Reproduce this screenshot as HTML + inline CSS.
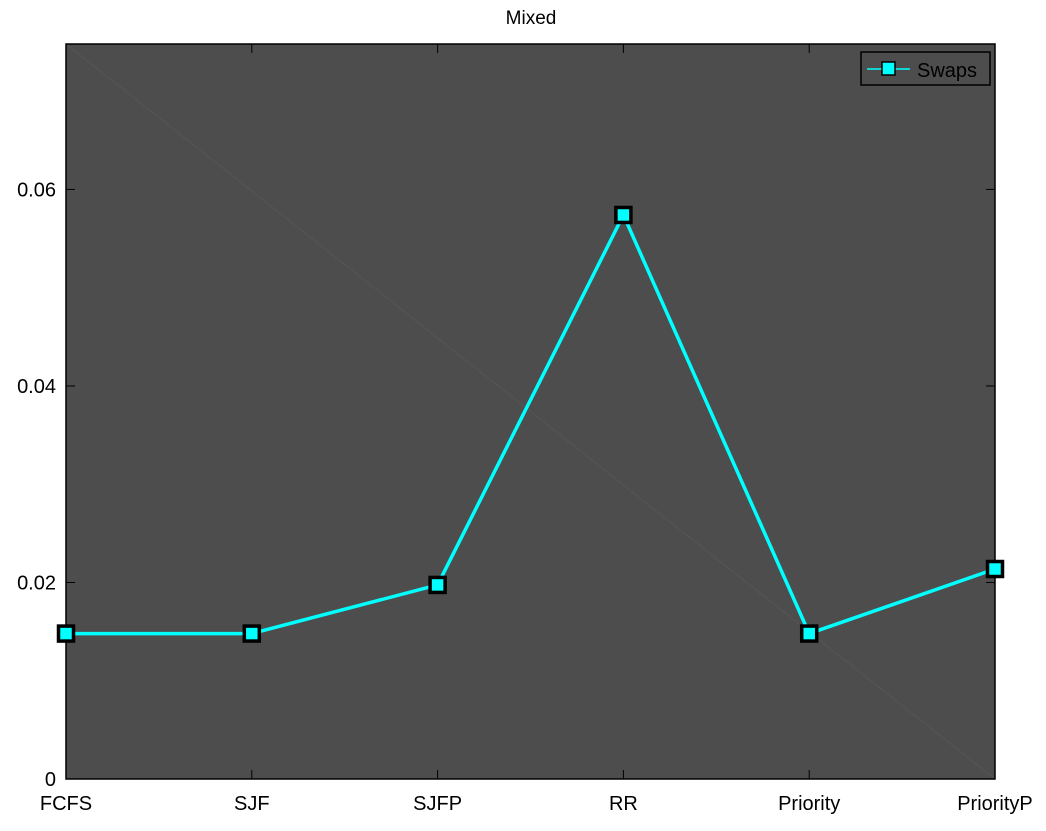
<!DOCTYPE html>
<html><head><meta charset="utf-8"><style>
body{margin:0;background:#fff;}
svg text{font-family:"Liberation Sans",sans-serif;}
</style></head><body>
<svg id="chart" width="1046" height="826" xmlns="http://www.w3.org/2000/svg"></svg>
<script>
const categories=["FCFS","SJF","SJFP","RR","Priority","PriorityP"];
const swaps=[0.0148,0.0148,0.01975,0.0574,0.0148,0.02137];
const yTicks=[0,0.02,0.04,0.06];
const yTickLabels=["0","0.02","0.04","0.06"];
const yMax=0.0748;
const L=66,R=995,T=44,B=779;
const NS="http://www.w3.org/2000/svg";
const svg=document.getElementById('chart');
function xs(i){return L+i*(R-L)/(categories.length-1);}
function ys(v){return B-v/yMax*(B-T);}
function mk(tag,attrs,parent){const e=document.createElementNS(NS,tag);for(const k in attrs)e.setAttribute(k,attrs[k]);(parent||svg).appendChild(e);return e;}
let e;
e=mk('rect',{x:L,y:T,width:R-L,height:B-T,fill:'#4d4d4d'});


e=mk('line',{x1:L,y1:T,x2:R,y2:B,stroke:'#555','stroke-width':1});


e=mk('text',{x:531,y:24,'text-anchor':'middle','font-size':19,fill:'#000'});
e.textContent='Mixed';


yTicks.forEach((t,i)=>{
  const y=ys(t);
  e=mk('line',{x1:L,y1:y,x2:L+9,y2:y,stroke:'#000','stroke-width':1});
  
  
  e=mk('line',{x1:R-9,y1:y,x2:R,y2:y,stroke:'#000','stroke-width':1});
  
  
  e=mk('text',{x:L-10,y:y+7,'text-anchor':'end','font-size':20,fill:'#000'});
  e.textContent=yTickLabels[i];
  
  
});
categories.forEach((c,i)=>{
  const x=xs(i);
  e=mk('line',{x1:x,y1:B,x2:x,y2:B-9,stroke:'#000','stroke-width':1});
  
  
  e=mk('line',{x1:x,y1:T,x2:x,y2:T+9,stroke:'#000','stroke-width':1});
  
  
  e=mk('text',{x:x,y:810,'text-anchor':'middle','font-size':20,fill:'#000'});
  e.textContent=c;
  
  
});
e=mk('rect',{x:L,y:T,width:R-L,height:B-T,fill:'none',stroke:'#000','stroke-width':1.5});


e=mk('polyline',{points:swaps.map((v,i)=>xs(i)+','+ys(v)).join(' '),fill:'none',stroke:'#00ffff','stroke-width':3.5});


swaps.forEach((v,i)=>{
  e=mk('rect',{x:xs(i)-7.5,y:ys(v)-7.5,width:15,height:15,fill:'#00ffff',stroke:'#000','stroke-width':3.5});
  
  
});
const lg=mk('g',{});


mk('rect',{x:861,y:52,width:129,height:33,fill:'#4d4d4d',stroke:'#000','stroke-width':1.5},lg);
mk('line',{x1:867,y1:69,x2:910,y2:69,stroke:'#00ffff','stroke-width':1.5},lg);
mk('rect',{x:882,y:62,width:13,height:13,fill:'#00ffff',stroke:'#000','stroke-width':1.5},lg);
e=mk('text',{x:917,y:77,'font-size':20,fill:'#000'},lg);
e.textContent='Swaps';


</script>
</body></html>
